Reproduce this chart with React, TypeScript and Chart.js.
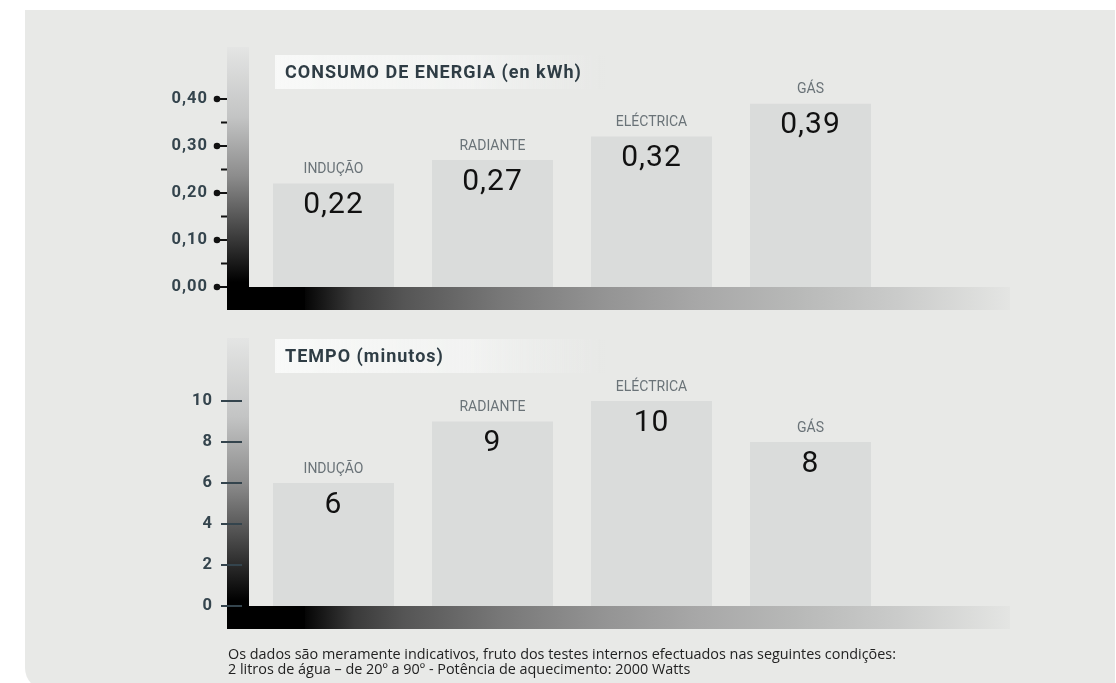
import React, { useEffect, useRef } from 'react';
import { Chart, registerables } from 'chart.js';

Chart.register(...registerables);

const categories = ['INDUÇÃO', 'RADIANTE', 'ELÉCTRICA', 'GÁS'];
const energyValues = [0.22, 0.27, 0.32, 0.39];
const timeValues = [6, 9, 10, 8];
const energyTitle = 'CONSUMO DE ENERGIA (en kWh)';
const timeTitle = 'TEMPO (minutos)';
const energyAxis = { min: 0, max: 0.4, step: 0.1 };
const timeAxis = { min: 0, max: 10, step: 2 };
const footerLines = [
  'Os dados são meramente indicativos, fruto dos testes internos efectuados nas seguintes condições:',
  '2 litros de água – de 20º a 90º - Potência de aquecimento: 2000 Watts',
];

const FONT = 'Roboto, "DejaVu Sans", sans-serif';
const fmtEnergy = (v: number) => v.toFixed(2).replace('.', ',');
const fmtTime = (v: number) => String(v);

type DecorCfg = {
  id: string;
  title: string;
  titleOffset: number;
  barTopOffset: number;
  style: 'dots' | 'lines';
  fmt: (v: number) => string;
  step: number;
};

function makeDecor(cfg: DecorCfg) {
  return {
    id: 'decor_' + cfg.id,
    beforeDraw(chart: any) {
      (chart.ctx as any).letterSpacing = '1px';
    },
    beforeDatasetsDraw(chart: any) {
      const { ctx, chartArea: a } = chart;
      const ys = chart.scales.y;
      ctx.save();
      // title background
      const ty = a.top - cfg.titleOffset;
      const tx0 = a.left + 21;
      const tg = ctx.createLinearGradient(tx0, 0, tx0 + 330, 0);
      tg.addColorStop(0, 'rgba(248,249,248,1)');
      tg.addColorStop(0.6, 'rgba(244,245,244,0.8)');
      tg.addColorStop(1, 'rgba(240,241,240,0)');
      ctx.fillStyle = tg;
      ctx.fillRect(tx0, ty - 17, 330, 34);
      ctx.fillStyle = '#2f3d45';
      ctx.font = `bold 18px ${FONT}`;
      ctx.letterSpacing = '1px';
      ctx.textAlign = 'left';
      ctx.textBaseline = 'middle';
      ctx.fillText(cfg.title, a.left + 31, ty + 1);

      // vertical gradient bar
      const vx = a.left - 27;
      const vTop = a.top - cfg.barTopOffset;
      const hTop = a.bottom;
      const hBot = a.bottom + 23;
      const vg = ctx.createLinearGradient(0, vTop, 0, a.bottom - 5);
      vg.addColorStop(0, '#e4e5e4');
      vg.addColorStop(0.3, '#c3c4c4');
      vg.addColorStop(0.55, '#8c8c8c');
      vg.addColorStop(0.78, '#454545');
      vg.addColorStop(1, '#000000');
      ctx.fillStyle = vg;
      ctx.fillRect(vx, vTop, 22, a.bottom - vTop + 1);
      // black corner block
      ctx.fillStyle = '#000';
      ctx.fillRect(vx, hTop, 78, hBot - hTop);
      // horizontal gradient bar
      const hx0 = vx + 78;
      const hx1 = 1010;
      const hg = ctx.createLinearGradient(hx0, 0, hx1, 0);
      hg.addColorStop(0, '#050505');
      hg.addColorStop(0.07, '#3a3a3a');
      hg.addColorStop(0.14, '#555555');
      hg.addColorStop(0.28, '#787878');
      hg.addColorStop(0.42, '#939393');
      hg.addColorStop(0.56, '#a8a8a8');
      hg.addColorStop(0.7, '#b8b9b8');
      hg.addColorStop(0.84, '#cacbca');
      hg.addColorStop(1, '#e4e5e3');
      ctx.fillStyle = hg;
      ctx.fillRect(hx0, hTop, hx1 - hx0, hBot - hTop);

      // tick marks
      const ticks = ys.ticks.map((t: any) => t.value);
      if (cfg.style === 'dots') {
        ctx.strokeStyle = '#111';
        ctx.fillStyle = '#111';
        ctx.lineWidth = 2;
        ticks.forEach((v: number, i: number) => {
          const py = ys.getPixelForValue(v);
          ctx.beginPath();
          ctx.arc(a.left - 37, py, 3.3, 0, Math.PI * 2);
          ctx.fill();
          ctx.beginPath();
          ctx.moveTo(a.left - 37, py);
          ctx.lineTo(vx, py);
          ctx.stroke();
          if (i < ticks.length - 1) {
            const my = ys.getPixelForValue(v + cfg.step / 2);
            ctx.beginPath();
            ctx.moveTo(a.left - 33, my);
            ctx.lineTo(vx, my);
            ctx.stroke();
          }
        });
      } else {
        ctx.strokeStyle = '#34444d';
        ctx.lineWidth = 2;
        ticks.forEach((v: number) => {
          const py = ys.getPixelForValue(v);
          ctx.beginPath();
          ctx.moveTo(a.left - 33, py);
          ctx.lineTo(a.left - 12, py);
          ctx.stroke();
        });
      }
      ctx.restore();
    },
    afterDatasetsDraw(chart: any) {
      const { ctx } = chart;
      const meta = chart.getDatasetMeta(0);
      const data = chart.data.datasets[0].data as number[];
      const labels = chart.data.labels as string[];
      ctx.save();
      ctx.textAlign = 'center';
      ctx.textBaseline = 'middle';
      meta.data.forEach((bar: any, i: number) => {
        ctx.fillStyle = '#6a7378';
        ctx.font = `14px ${FONT}`;
        ctx.letterSpacing = '0px';
        ctx.fillText(labels[i], bar.x, bar.y - 14);
        ctx.fillStyle = '#111';
        ctx.font = `30px ${FONT}`;
        ctx.letterSpacing = '1px';
        ctx.fillText(cfg.fmt(data[i]), bar.x, bar.y + 22);
      });
      ctx.restore();
    },
    afterDraw(chart: any) {
      (chart.ctx as any).letterSpacing = '0px';
    },
  };
}

function BarPanel(props: {
  values: number[];
  axis: { min: number; max: number; step: number };
  cfg: DecorCfg;
  padTop: number;
  padBottom: number;
  labelPad: number;
  top: number;
}) {
  const ref = useRef<HTMLCanvasElement>(null);
  useEffect(() => {
    if (!ref.current) return;
    const chart = new Chart(ref.current, {
      type: 'bar',
      data: {
        labels: categories,
        datasets: [
          {
            data: props.values,
            backgroundColor: '#dadcdb',
            barPercentage: 121 / 159,
            categoryPercentage: 1,
          },
        ],
      },
      options: {
        responsive: false,
        animation: false,
        devicePixelRatio: 1,
        layout: { padding: { left: 150, right: 226, top: props.padTop, bottom: props.padBottom } },
        plugins: { legend: { display: false }, tooltip: { enabled: false } },
        scales: {
          x: { display: false, offset: true },
          y: {
            min: props.axis.min,
            max: props.axis.max,
            afterFit: (s: any) => {
              s.width = 104;
              s.paddingTop = 0;
              s.paddingBottom = 0;
            },
            grid: { display: false, drawTicks: false },
            border: { display: false },
            ticks: {
              stepSize: props.axis.step,
              padding: props.labelPad,
              color: '#34444d',
              font: { family: FONT, size: 16.5, weight: 'bold' },
              callback: (v: any) => props.cfg.fmt(Number(v)),
            },
          },
        },
      },
      plugins: [makeDecor(props.cfg)],
    } as any);
    return () => chart.destroy();
  }, []);
  return (
    <canvas
      ref={ref}
      width={1116}
      height={330}
      style={{ position: 'absolute', left: 0, top: props.top, width: 1116, height: 330 }}
    />
  );
}

export default function App() {
  useEffect(() => {
    document.body.style.margin = '0';
  }, []);
  return (
    <div style={{ position: 'relative', width: 1116, height: 683, background: '#fff', overflow: 'hidden' }}>
      <div
        style={{
          position: 'absolute',
          left: 25,
          top: 10,
          width: 1090,
          height: 680,
          background: '#e8e9e7',
          borderBottomLeftRadius: 22,
          borderBottomRightRadius: 6,
        }}
      />
      <BarPanel
        values={energyValues}
        axis={energyAxis}
        padTop={99}
        padBottom={43}
        labelPad={46}
        top={0}
        cfg={{
          id: 'energy',
          title: energyTitle,
          titleOffset: 27,
          barTopOffset: 52,
          style: 'dots',
          fmt: fmtEnergy,
          step: energyAxis.step,
        }}
      />
      <BarPanel
        values={timeValues}
        axis={timeAxis}
        padTop={81}
        padBottom={44}
        labelPad={41}
        top={320}
        cfg={{
          id: 'time',
          title: timeTitle,
          titleOffset: 45,
          barTopOffset: 63,
          style: 'lines',
          fmt: fmtTime,
          step: timeAxis.step,
        }}
      />
      <div
        style={{
          position: 'absolute',
          left: 228,
          top: 646,
          fontFamily: '"Open Sans", Lato, sans-serif',
          fontSize: 14.4,
          lineHeight: '15px',
          color: '#222',
        }}
      >
        {footerLines.map((l, i) => (
          <div key={i}>{l}</div>
        ))}
      </div>
    </div>
  );
}
